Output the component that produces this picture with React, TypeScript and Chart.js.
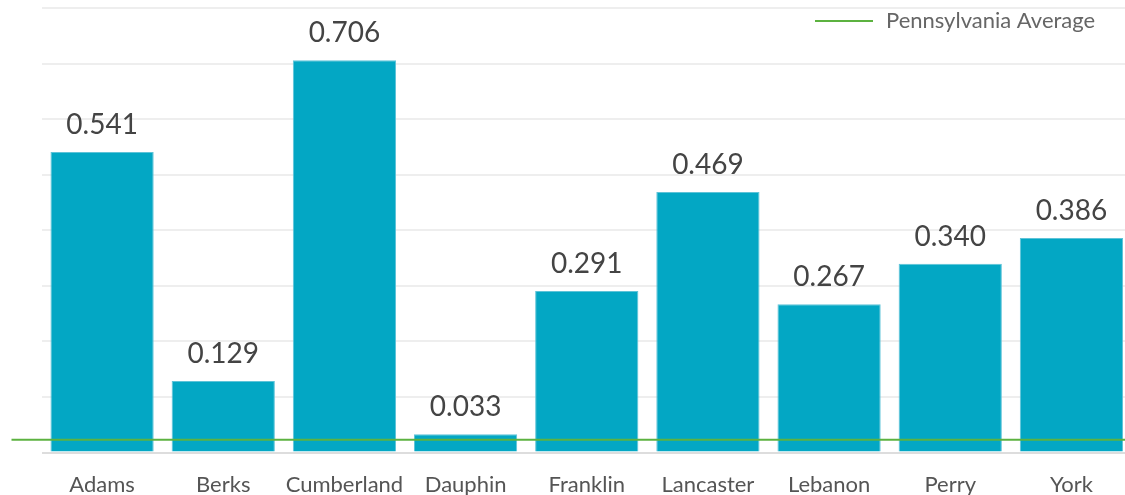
import React, { useEffect, useRef } from "react";
import { Chart, registerables } from "chart.js";

Chart.register(...registerables);

const categories = ["Adams", "Berks", "Cumberland", "Dauphin", "Franklin", "Lancaster", "Lebanon", "Perry", "York"];
const values = [0.541, 0.129, 0.706, 0.033, 0.291, 0.469, 0.267, 0.34, 0.386];
const averageLabel = "Pennsylvania Average";
const averageValue = 0.023;
const yMin = 0;
const yMax = 0.8;
const yStep = 0.1;

const FONT = "Lato, 'Noto Sans', sans-serif";
const GREEN = "#5cb240";

const overlayPlugin = {
  id: "overlay",
  afterDatasetsDraw(chart: any) {
    const { ctx, chartArea, scales } = chart;
    const meta = chart.getDatasetMeta(0);
    ctx.save();
    // value labels
    ctx.fillStyle = "#444444";
    ctx.font = `28px ${FONT}`;
    ctx.textAlign = "center";
    ctx.textBaseline = "alphabetic";
    meta.data.forEach((bar: any, i: number) => {
      ctx.fillText(values[i].toFixed(3), bar.x, bar.y - 18);
    });
    // average line
    const y = scales.y.getPixelForValue(averageValue);
    ctx.strokeStyle = GREEN;
    ctx.lineWidth = 2;
    ctx.beginPath();
    ctx.moveTo(chartArea.left - 30, y);
    ctx.lineTo(chart.width, y);
    ctx.stroke();
    // legend
    ctx.beginPath();
    ctx.moveTo(815, 21);
    ctx.lineTo(873, 21);
    ctx.stroke();
    ctx.fillStyle = "#666666";
    ctx.font = `22px ${FONT}`;
    ctx.textAlign = "left";
    ctx.textBaseline = "middle";
    ctx.fillText(averageLabel, 886, 21);
    ctx.restore();
  },
};

export default function App() {
  const ref = useRef<HTMLCanvasElement | null>(null);
  useEffect(() => {
    if (!ref.current) return;
    const chart = new Chart(ref.current, {
      type: "bar",
      data: {
        labels: categories,
        datasets: [
          {
            label: "Value",
            data: values,
            backgroundColor: "#03a7c4",
            borderColor: "#5ec3d8",
            borderWidth: 1,
            barPercentage: 0.852,
            categoryPercentage: 1,
          },
        ],
      },
      options: {
        responsive: false,
        animation: false,
        layout: { padding: { left: 41.5, right: 8, top: 8, bottom: -22 } },
        plugins: { legend: { display: false }, tooltip: { enabled: false } },
        scales: {
          x: {
            grid: { display: false, drawTicks: false },
            border: { display: false },
            ticks: { color: "#555555", font: { family: FONT, size: 22 }, padding: 19, maxRotation: 0 },
          },
          y: {
            min: yMin,
            max: yMax,
            ticks: { display: false, stepSize: yStep },
            grid: {
              drawTicks: false,
              color: (c: any) => (c.tick && c.tick.value === 0 ? "#dddddd" : "#eeeeee"),
              lineWidth: 2,
            },
            border: { display: false },
          },
        },
      },
      plugins: [overlayPlugin],
    });
    return () => chart.destroy();
  }, []);
  return (
    <div style={{ position: "fixed", left: 0, top: 0, width: 1125, height: 495, overflow: "hidden", background: "#fff" }}>
      <canvas ref={ref} width={1140} height={495} style={{ display: "block" }} />
    </div>
  );
}
